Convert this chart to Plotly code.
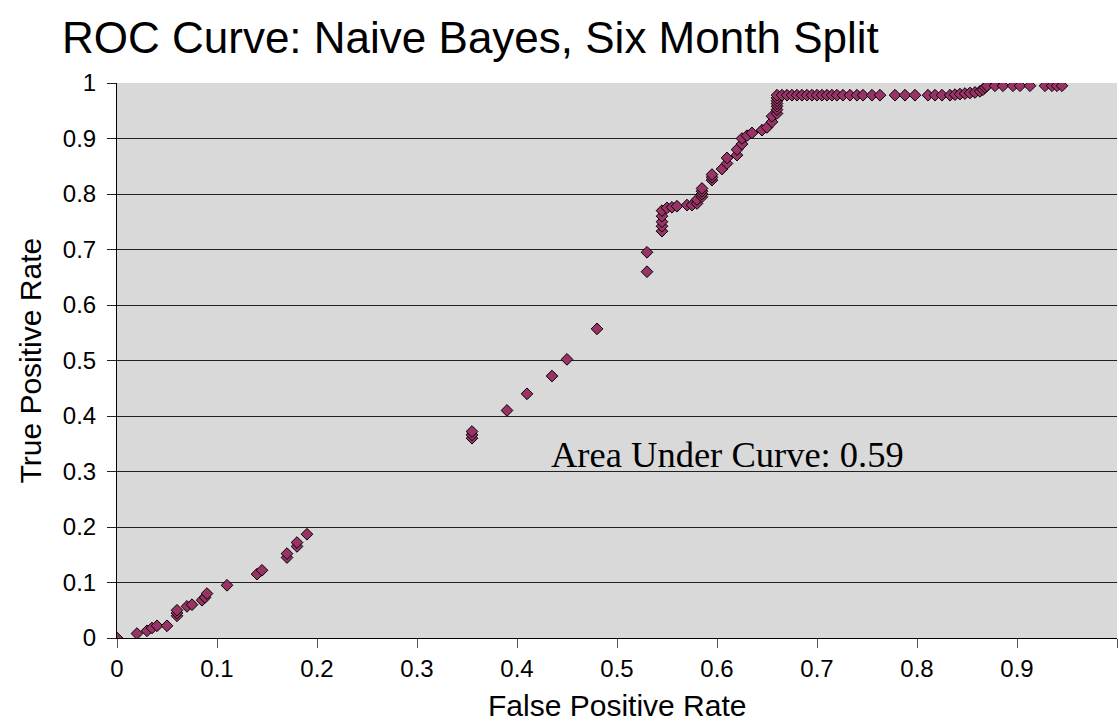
import plotly.graph_objects as go

# ROC points for the Naive Bayes classifier (six month split)
fpr = [
    0.0, 0.02, 0.03, 0.035, 0.04, 0.05, 0.06, 0.06, 0.06, 0.07, 0.075,
    0.085, 0.088, 0.09, 0.11, 0.14, 0.145, 0.17, 0.17, 0.18, 0.18, 0.19,
    0.355, 0.355, 0.355, 0.39, 0.41, 0.435, 0.45, 0.48, 0.53, 0.53,
    0.545, 0.545, 0.545, 0.545, 0.545, 0.55, 0.555, 0.56,
    0.57, 0.575, 0.58, 0.58, 0.585, 0.585, 0.585, 0.585,
    0.595, 0.595, 0.595, 0.605, 0.61, 0.61, 0.62, 0.62, 0.625, 0.625,
    0.63, 0.635, 0.645, 0.65, 0.655, 0.655, 0.66, 0.66, 0.66, 0.66,
    0.66, 0.66, 0.66,
    0.665, 0.67, 0.675, 0.68, 0.685, 0.69, 0.695, 0.70, 0.705, 0.71,
    0.715, 0.72, 0.726, 0.733, 0.740, 0.746, 0.755, 0.763,
    0.778, 0.788, 0.798, 0.811, 0.818, 0.825, 0.833,
    0.838, 0.843, 0.848, 0.853, 0.858, 0.863, 0.866, 0.868,
    0.870, 0.878, 0.886, 0.896, 0.903, 0.913, 0.928, 0.935, 0.940, 0.945,
]
tpr = [
    0.0, 0.008, 0.013, 0.018, 0.022, 0.022, 0.04, 0.045, 0.05, 0.057, 0.06,
    0.068, 0.073, 0.08, 0.095, 0.115, 0.122, 0.145, 0.152, 0.165, 0.172, 0.187,
    0.36, 0.366, 0.372, 0.41, 0.44, 0.472, 0.502, 0.557, 0.66, 0.695,
    0.733, 0.742, 0.75, 0.76, 0.77, 0.775, 0.776, 0.778,
    0.78, 0.78, 0.783, 0.79, 0.795, 0.8, 0.805, 0.81,
    0.825, 0.83, 0.835, 0.845, 0.855, 0.865, 0.87, 0.88, 0.89, 0.9,
    0.905, 0.91, 0.915, 0.92, 0.93, 0.94, 0.945, 0.952, 0.958, 0.963,
    0.968, 0.973, 0.978,
    0.978, 0.978, 0.978, 0.978, 0.978, 0.978, 0.978, 0.978, 0.978, 0.978,
    0.978, 0.978, 0.978, 0.978, 0.978, 0.978, 0.978, 0.978,
    0.978, 0.978, 0.978, 0.978, 0.978, 0.978, 0.978,
    0.979, 0.98, 0.981, 0.982, 0.983, 0.985, 0.988, 0.992,
    0.995, 0.995, 0.995, 0.995, 0.995, 0.995, 0.995, 0.995, 0.995, 0.995,
]

auc_text = "Area Under Curve: 0.59"
tick_vals = [round(i * 0.1, 1) for i in range(11)]
tick_text = ["0", "0.1", "0.2", "0.3", "0.4", "0.5", "0.6", "0.7", "0.8", "0.9", "1"]

sans = "Liberation Sans, Arial, sans-serif"
serif = "Liberation Serif, Times New Roman, serif"

fig = go.Figure()
fig.add_trace(go.Scatter(
    x=fpr, y=tpr, mode="markers",
    marker=dict(symbol="diamond", size=9, color="#993366",
                line=dict(color="#000000", width=1)),
    showlegend=False,
))

fig.update_layout(
    width=1119, height=727,
    margin=dict(l=117, r=2, t=83, b=89),
    paper_bgcolor="white",
    plot_bgcolor="#d9d9d9",
    title=dict(text="ROC Curve: Naive Bayes, Six Month Split",
               x=62 / 1119, xanchor="left", y=1 - 38 / 727, yanchor="middle",
               font=dict(family=sans, size=44, color="black")),
    xaxis=dict(range=[0, 1], tickvals=tick_vals, ticktext=tick_text,
               showgrid=False, zeroline=False,
               showline=True, linecolor="black", linewidth=1,
               ticks="outside", ticklen=9, tickcolor="#555555",
               tickfont=dict(family=sans, size=24, color="black")),
    yaxis=dict(range=[0, 1], tickvals=tick_vals, ticktext=tick_text,
               showgrid=True, gridcolor="#222222", gridwidth=1, zeroline=False,
               showline=True, linecolor="black", linewidth=1,
               ticks="outside", ticklen=9, tickcolor="#222222",
               ticklabelstandoff=6,
               tickfont=dict(family=sans, size=24, color="black")),
    annotations=[
        dict(text=auc_text, x=0.61, y=0.33, xref="x", yref="y",
             showarrow=False, xanchor="center", yanchor="middle",
             font=dict(family=serif, size=36.5, color="black")),
        dict(text="False Positive Rate", x=0.5, y=-0.122, xref="paper", yref="paper",
             showarrow=False, xanchor="center", yanchor="middle",
             font=dict(family=sans, size=30, color="black")),
        dict(text="True Positive Rate", x=-0.087, y=0.5, xref="paper", yref="paper",
             showarrow=False, xanchor="center", yanchor="middle", textangle=-90,
             font=dict(family=sans, size=30, color="black")),
    ],
)

fig.write_html("out.html")
